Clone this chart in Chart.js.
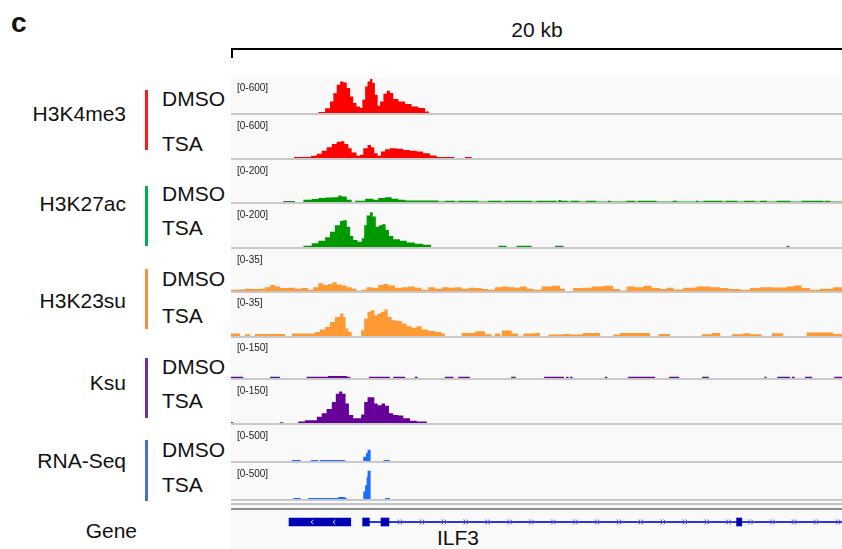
<!DOCTYPE html>
<html>
<head>
<meta charset="utf-8">
<script src="https://cdn.jsdelivr.net/npm/chart.js@4.4.0/dist/chart.umd.min.js"></script>
<style>
  body { margin: 0; background: #fff; font-family: "Liberation Sans", Arial, sans-serif; }
  #wrap { position: relative; width: 842px; height: 549px; overflow: hidden; }
  .txt { position: absolute; font-size: 21px; line-height: 21px; color: #111; white-space: nowrap; }
  .range { position: absolute; left: 237px; font-size: 10px; line-height: 11px; color: #222; }
  .sep { position: absolute; left: 231px; width: 611px; height: 1.5px; background: #c8c8c8; }
</style>
</head>
<body>
<div id="wrap">
  <div class="txt" style="left:11px;top:9px;font-size:28px;line-height:28px;font-weight:bold">c</div>
  <div class="txt" style="left:437px;width:200px;text-align:center;top:19px">20 kb</div>
  <div style="position:absolute;left:231px;top:48px;width:611px;height:2px;background:#000"></div>
  <div style="position:absolute;left:231px;top:48px;width:2px;height:10px;background:#000"></div>
  <div style="position:absolute;left:231px;top:77px;width:611px;height:472px;background:#f9f9f9"></div>
  <div style="position:absolute;left:231px;top:503px;width:611px;height:1.5px;background:#c4c4c4"></div>
  <div style="position:absolute;left:231px;top:508px;width:611px;height:1.5px;background:#8c8c8c"></div>
</div>
<script>
// signal tracks: [position in kb, value], value holds until next position
const h3k4me3Dmso = [[0,0],[2.86,15],[3.08,80],[3.24,190],[3.35,330],[3.46,470],[3.57,527],[3.68,510],[3.79,415],[3.90,277],[4.00,167],[4.11,110],[4.22,83],[4.30,220],[4.39,443],[4.47,527],[4.55,567],[4.63,500],[4.71,305],[4.80,122],[4.88,193],[4.99,322],[5.10,372],[5.20,333],[5.31,233],[5.48,193],[5.70,150],[5.91,110],[6.13,83],[6.35,27],[6.48,0],[20,0]];
const h3k4me3Tsa = [[0,0],[2.06,14],[2.62,30],[2.81,60],[2.97,100],[3.13,150],[3.30,195],[3.46,226],[3.60,235],[3.71,195],[3.84,136],[3.95,77],[4.11,31],[4.22,45],[4.33,136],[4.47,181],[4.58,150],[4.69,68],[4.80,31],[4.91,90],[5.04,122],[5.20,136],[5.42,130],[5.64,113],[5.86,100],[6.08,90],[6.29,68],[6.51,35],[6.73,14],[7.31,0],[7.66,14],[7.88,0],[20,0]];
const h3k27acDmso = [[0,0],[1.71,5],[2.09,0],[2.37,11],[2.64,14],[2.86,19],[3.08,21],[3.30,23],[3.51,31],[3.62,26],[3.79,11],[3.95,0],[4.06,6],[4.39,15],[4.66,11],[4.82,19],[5.04,23],[5.26,15],[5.48,11],[5.70,7],[6.79,2],[7.00,6],[7.33,2],[7.44,6],[8.09,2],[8.42,6],[8.86,2],[8.97,6],[9.84,2],[10.00,6],[10.65,2],[10.72,10],[10.80,6],[11.02,2],[11.13,6],[11.40,2],[11.62,6],[11.95,2],[12.34,6],[12.43,2],[12.95,6],[13.22,2],[13.32,6],[13.93,2],[14.46,6],[14.59,2],[15.22,6],[15.30,2],[15.46,6],[16.09,2],[16.20,6],[16.57,2],[16.80,6],[17.15,2],[17.32,6],[17.54,2],[17.86,6],[18.30,2],[18.68,6],[19.39,2],[19.44,6],[19.60,2],[20,2]];
const h3k27acTsa = [[0,0],[2.37,6],[2.64,18],[2.86,29],[3.08,45],[3.24,71],[3.40,101],[3.57,121],[3.67,124],[3.79,94],[3.90,51],[4.00,33],[4.14,25],[4.28,41],[4.36,101],[4.44,147],[4.55,162],[4.64,142],[4.74,94],[4.84,101],[4.95,106],[5.06,79],[5.17,51],[5.31,36],[5.53,29],[5.75,21],[6.02,15],[6.29,10],[6.55,0],[8.75,6],[9.02,0],[9.35,6],[9.84,0],[10.61,6],[10.88,0],[18.19,6],[18.28,0],[20,0]];
const h3k23suDmso = [[0,1.1],[0.24,1.3],[0.46,1.9],[0.68,1.6],[0.89,1.9],[1.11,3.2],[1.28,5.1],[1.44,3.8],[1.60,2.4],[1.88,2.7],[2.09,1.9],[2.31,2.4],[2.53,1.1],[2.69,3.2],[2.86,6.5],[3.02,5.1],[3.18,5.9],[3.32,7.3],[3.46,5.4],[3.62,4.6],[3.79,3.2],[3.95,1.9],[4.11,0.5],[4.28,1.1],[4.44,3.2],[4.61,2.7],[4.82,5.1],[4.99,5.9],[5.15,4.6],[5.37,2.7],[5.59,3.2],[5.80,3.8],[6.02,2.7],[6.24,1.1],[6.46,3.2],[6.68,1.9],[6.90,3.2],[7.11,2.7],[7.33,3.2],[7.55,1.9],[7.77,2.7],[7.99,2.4],[8.21,1.6],[8.42,1.1],[8.64,3.2],[8.86,3.8],[9.08,3.2],[9.30,2.7],[9.46,3.8],[9.68,1.9],[9.90,1.1],[10.17,3.8],[10.50,4.3],[10.77,1.9],[10.93,0],[11.20,2.4],[11.53,2.7],[11.81,3.8],[12.19,4.3],[12.51,1.6],[12.73,0.5],[12.95,3.8],[13.22,3.2],[13.50,4.3],[13.77,2.4],[14.04,1.6],[14.26,2.7],[14.48,1.3],[14.80,2.7],[15.24,3.8],[15.68,3.2],[16.01,2.4],[16.28,1.6],[16.66,1.1],[16.99,2.4],[17.32,3.2],[17.75,3.0],[18.19,3.8],[18.41,4.6],[18.68,2.4],[18.95,1.1],[19.28,1.9],[19.71,3.2],[20,3.2]];
const h3k23suTsa = [[0,1.9],[0.29,0],[0.46,1.3],[0.62,0],[0.78,1.6],[1.77,0],[1.99,1.9],[2.75,3.2],[2.91,5.1],[3.08,7.2],[3.24,11.2],[3.40,15.2],[3.57,17.9],[3.68,15.2],[3.75,5.9],[3.84,3.2],[3.95,0],[4.26,4.5],[4.36,13.9],[4.47,19.2],[4.58,20.5],[4.69,16.5],[4.80,17.9],[4.91,19.2],[5.02,21],[5.13,15.2],[5.26,12.5],[5.42,12],[5.59,9.9],[5.75,7.7],[5.91,6.6],[6.08,7.7],[6.24,5.1],[6.46,4],[6.68,3.2],[6.90,1.9],[7.00,0],[7.55,2.4],[7.99,3.7],[8.31,1.3],[8.53,0],[8.64,1.9],[8.81,0],[8.86,4.3],[9.19,1.9],[9.40,0],[9.57,1.9],[9.95,2.4],[10.11,0],[10.39,1.1],[10.88,1.6],[11.10,1.1],[11.51,2.4],[12.08,0],[12.51,1.1],[12.73,2.4],[13.71,0],[13.99,1.6],[14.37,0],[15.41,1.3],[15.73,2.4],[16.01,0],[16.39,1.3],[16.77,2.2],[16.99,1.3],[17.37,0],[17.70,2.1],[18.08,0],[18.84,2.7],[19.71,1.6],[20,1.6]];
const ksuDmso = [[0,5],[0.40,0],[1.28,5],[1.60,0],[2.48,5],[3.18,7],[3.79,5],[3.90,0],[4.52,5],[5.20,0],[5.31,5],[5.70,0],[6.02,5],[6.11,0],[7.00,5],[7.28,0],[7.44,5],[7.82,0],[9.17,5],[9.32,0],[10.25,5],[10.90,0],[10.97,5],[11.05,0],[11.10,5],[11.18,0],[12.24,5],[12.32,0],[13.00,5],[13.88,0],[14.34,5],[14.67,0],[15.42,5],[15.64,0],[17.46,5],[17.53,0],[17.88,5],[18.30,0],[18.36,5],[18.45,0],[18.79,5],[19.02,0],[19.75,5],[20,5]];
const ksuTsa = [[0,3],[0.08,0],[1.60,3],[1.71,0],[2.20,5],[2.42,10],[2.81,22],[2.97,34],[3.13,49],[3.30,73],[3.43,102],[3.54,110],[3.64,102],[3.75,68],[3.86,28],[4.00,17],[4.15,17],[4.26,30],[4.36,73],[4.47,90],[4.58,90],[4.69,68],[4.80,62],[4.93,68],[5.04,60],[5.17,34],[5.31,28],[5.48,26],[5.64,17],[5.86,8],[6.08,5],[6.41,0],[20,0]];
const rnaDmso = [[0,0],[1.99,13],[2.28,0],[2.62,13],[2.86,0],[2.91,13],[3.73,0],[4.33,58],[4.42,112],[4.47,157],[4.57,0],[4.99,13],[5.20,0],[20,0]];
const rnaTsa = [[0,0],[2.04,13],[2.28,0],[2.53,13],[3.51,27],[3.73,13],[3.79,0],[4.33,103],[4.39,192],[4.44,303],[4.47,393],[4.57,0],[5.04,13],[5.20,0],[20,0]];

const trackSeries = [h3k4me3Dmso, h3k4me3Tsa, h3k27acDmso, h3k27acTsa, h3k23suDmso, h3k23suTsa, ksuDmso, ksuTsa, rnaDmso, rnaTsa];
const dataRanges = [600, 600, 200, 200, 35, 35, 150, 150, 500, 500];
const groupNames = ["H3K4me3", "H3K27ac", "H3K23su", "Ksu", "RNA-Seq"];
const conditions = ["DMSO", "TSA"];

// gene model (kb)
const geneName = "ILF3";
const geneExons = [[1.90, 3.92], [4.31, 4.53], [4.91, 5.17], [16.55, 16.72]];
const geneIntron = [4.53, 20];

// layout
const trackColors = ["#ff0000", "#ff0000", "#009900", "#009900", "#ff9933", "#ff9933", "#660099", "#660099", "#1a6dff", "#1a6dff"];
const groupColors = ["#ff1a1a", "#00b050", "#f5913e", "#7030a0", "#4472c4"];
const trackTops = [77, 115, 160, 204, 249, 292, 337, 380, 425, 463];
const trackBottoms = [113, 158, 202, 247, 290.5, 335.5, 378, 423, 461, 499];
const groupY = [113, 203, 300, 382, 460];
const condY = [[98, 143], [193, 227], [278, 315], [366, 400], [449, 484]];
const barY = [[90, 150], [186, 246], [269, 329], [358, 418], [440, 501]];

const wrap = document.getElementById("wrap");

function addText(txt, css) {
  const d = document.createElement("div");
  d.className = "txt";
  d.textContent = txt;
  d.style.cssText = css;
  wrap.appendChild(d);
  return d;
}

groupNames.forEach((g, i) => {
  addText(g, `left:0;width:126px;text-align:right;top:${groupY[i] - 10.5}px`);
  conditions.forEach((c, j) => addText(c, `left:162px;top:${condY[i][j] - 10.5}px`));
  const b = document.createElement("div");
  b.style.cssText = `position:absolute;left:145px;width:2.5px;top:${barY[i][0]}px;height:${barY[i][1] - barY[i][0]}px;background:${groupColors[i]}`;
  wrap.appendChild(b);
});
addText("Gene", "left:0;width:137px;text-align:right;top:519.5px");
addText(geneName, "left:408px;width:100px;text-align:center;top:527px");

trackSeries.forEach((series, i) => {
  const top = trackTops[i];
  const h = Math.round(trackBottoms[i] - top);
  const c = document.createElement("canvas");
  c.width = 611;
  c.height = h;
  c.style.cssText = `position:absolute;left:231px;top:${top}px;width:611px;height:${h}px`;
  wrap.appendChild(c);

  const sep = document.createElement("div");
  sep.className = "sep";
  sep.style.top = (top + h) + "px";
  wrap.appendChild(sep);

  const lab = document.createElement("div");
  lab.className = "range";
  lab.textContent = `[0-${dataRanges[i]}]`;
  lab.style.top = (top + 5) + "px";
  wrap.appendChild(lab);

  new Chart(c, {
    type: "line",
    data: {
      datasets: [{
        data: series,
        stepped: "before",
        fill: "origin",
        backgroundColor: trackColors[i],
        borderColor: "transparent",
        borderWidth: 0,
        pointRadius: 0
      }]
    },
    options: {
      responsive: false,
      animation: false,
      events: [],
      layout: { padding: 0 },
      plugins: { legend: { display: false }, tooltip: { enabled: false } },
      scales: {
        x: { type: "linear", min: 0, max: 20, display: false },
        y: { min: 0, max: dataRanges[i], display: false }
      }
    }
  });
});

// strand chevrons drawn along the gene line
const strandArrows = {
  id: "strandArrows",
  afterDatasetsDraw(chart) {
    const { ctx, scales: { x, y } } = chart;
    const yc = y.getPixelForValue(0);
    ctx.save();
    ctx.lineWidth = 1;
    ctx.strokeStyle = "#d8d8ff";
    [2.65, 3.37].forEach(k => {
      const px = x.getPixelForValue(k);
      ctx.beginPath();
      ctx.moveTo(px + 1.5, yc - 2);
      ctx.lineTo(px - 1, yc);
      ctx.lineTo(px + 1.5, yc + 2);
      ctx.stroke();
    });
    ctx.strokeStyle = "#5050ff";
    for (let k = 5.555; k < 20; k += 0.717) {
      const px = x.getPixelForValue(k);
      [-1.5, 1.5].forEach(o => {
        ctx.beginPath();
        ctx.moveTo(px + o - 1.5, yc - 2.5);
        ctx.lineTo(px + o + 1, yc);
        ctx.lineTo(px + o - 1.5, yc + 2.5);
        ctx.stroke();
      });
    }
    ctx.restore();
  }
};

const gc = document.createElement("canvas");
gc.width = 611;
gc.height = 24;
gc.style.cssText = "position:absolute;left:231px;top:510px;width:611px;height:24px";
wrap.appendChild(gc);

new Chart(gc, {
  type: "bar",
  data: {
    labels: [geneName],
    datasets: [
      ...geneExons.map(e => ({ data: [[e[0], e[1]]], backgroundColor: "#0000b4", barThickness: 8, grouped: false })),
      { data: [geneIntron], backgroundColor: "#3434d0", barThickness: 1.5, grouped: false }
    ]
  },
  options: {
    indexAxis: "y",
    responsive: false,
    animation: false,
    events: [],
    layout: { padding: 0 },
    plugins: { legend: { display: false }, tooltip: { enabled: false } },
    scales: {
      x: { type: "linear", min: 0, max: 20, display: false },
      y: { display: false }
    }
  },
  plugins: [strandArrows]
});
</script>
</body>
</html>
